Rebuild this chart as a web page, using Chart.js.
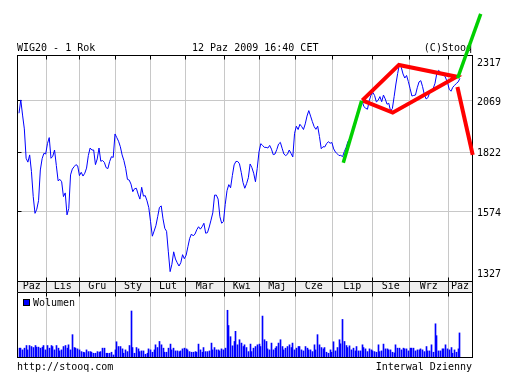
<!DOCTYPE html>
<html><head><meta charset="utf-8">
<script src="https://cdn.jsdelivr.net/npm/chart.js@4/dist/chart.umd.min.js"></script>
<style>
html,body{margin:0;padding:0;background:#fff;}
#wrap{position:relative;width:513px;height:381px;overflow:hidden;background:#fff;}
canvas{position:absolute;left:0;top:0;}
</style></head><body>
<div id="wrap">
<canvas id="vol" width="513" height="381"></canvas>
<canvas id="price" width="513" height="381"></canvas>
</div>
<script>
// ---------- texts ----------
const titleLeft = 'WIG20 - 1 Rok';
const titleCenter = '12 Paz 2009 16:40 CET';
const titleRight = '(C)Stooq';
const footerLeft = 'http://stooq.com';
const footerRight = 'Interwal Dzienny';
const volumeLabel = 'Wolumen';

// ---------- axes ----------
const monthLabels = ['Paz','Lis','Gru','Sty','Lut','Mar','Kwi','Maj','Cze','Lip','Sie','Wrz','Paz'];
// month boundaries in trading-day index units
const monthBounds = [15.4, 33.9, 54.2, 74.1, 93.5, 115.5, 135.2, 155.4, 176.2, 198.7, 219.5, 241.4];
const xRange = [-1.125, 254.8];
const priceTicks = [2317, 2069, 1822, 1574, 1327];
const volumeMax = 64;

// ---------- series (daily, trading-day index 0..248) ----------
const close = [
2007,2074,1998,1931,1796,1779,1811,1738,1634,1568,
1584,1618,1745,1794,1818,1815,1862,1890,1796,1805,
1833,1764,1699,1705,1695,1634,1649,1562,1587,1724,
1749,1759,1768,1763,1721,1735,1719,1731,1753,1808,
1842,1833,1833,1768,1793,1842,1783,1786,1778,1755,
1751,1782,1803,1800,1907,1890,1873,1848,1811,1786,
1752,1705,1702,1685,1654,1666,1668,1644,1624,1672,
1636,1638,1617,1590,1536,1482,1501,1521,1555,1591,
1597,1547,1511,1500,1426,1358,1383,1426,1401,1388,
1377,1388,1416,1402,1414,1444,1474,1490,1483,1490,
1506,1517,1508,1517,1530,1493,1495,1516,1542,1570,
1640,1640,1624,1555,1530,1537,1603,1658,1683,1670,
1721,1767,1782,1782,1772,1735,1692,1668,1687,1712,
1771,1755,1731,1695,1752,1825,1862,1854,1845,1845,
1842,1854,1837,1812,1815,1835,1860,1868,1841,1815,
1808,1814,1833,1818,1802,1910,1944,1928,1953,1942,
1928,1955,1993,2020,1993,1966,1942,1929,1944,1895,
1839,1848,1847,1862,1871,1864,1867,1838,1824,1816,
1808,1809,1803,1826,1845,1871,1884,1910,1942,1966,
1990,2023,2053,2067,2040,2032,2027,2070,2099,2113,
2097,2064,2072,2091,2065,2099,2079,2052,2057,2018,
2030,2091,2157,2214,2266,2248,2211,2189,2203,2170,
2132,2094,2097,2099,2137,2168,2175,2143,2101,2079,
2086,2112,2124,2134,2161,2214,2231,2222,2208,2210,
2189,2166,2129,2119,2140,2150,2160,2168,2187
];
const volume = [
8.7,8.7,7,8.7,11.3,7,11.3,10.3,9.3,11.3,
9.7,9.7,8.7,9.7,11.3,7,11.3,8.7,11.3,10.3,
7,11.3,8.7,6,7,10.3,11.3,8.7,12,7,
22,9.3,8.7,8,7,5.3,4.7,4.3,7,5.3,
5.3,4.7,3.7,3.7,5.3,4.7,5.3,8.7,8.7,3.7,
3.7,3.7,4.7,2,7,15,10.3,10.3,8,3.7,
7,5.3,11.3,45.3,9.3,3.7,9.3,8,5.3,6,
6,2.7,3.7,8,7,4.7,7,12,9.3,15.3,
12,8.7,4.7,4.7,8.7,12.7,7,8.7,6,6,
5.3,6,8,8.7,8,7,5.3,4.7,4.7,5.3,
4.7,12.7,7,4.7,9.3,5.3,5.3,6,13.7,7,
9.3,7,7,6,8,7,8.7,46,31,20,
11,15.3,25.3,12,17,13.7,10.3,12,9.3,5.3,
12.7,5.3,8.7,10.3,12,12.7,10.3,40.3,17,15.3,
8,7,13.7,7,8.7,10.3,13.7,17,10.3,7,
8.7,10.3,12,9.3,13.7,7,8.7,10.3,10.3,7,
6,10.3,8.7,7,7,5.3,12,7,22,12,
9.3,8,9.3,4.7,3.7,7,4.7,15,6,9.3,
17,13,37,15.3,11.3,9.3,11,7,8.7,6,
10.3,6,6,12,9.3,8,5.3,8,7,6,
5.3,4.7,12,5.3,6,12.7,8,8,7,7,
4.7,4,12,8.7,8.7,7,8.7,8,8,6,
8.7,8.7,8.7,6,7,7,8,7,5.3,10.3,
6,6,12,4.7,32.7,21,6,6,8,8,
12,8,7,9.3,3.7,7,4.7,8,23.7
];

// ---------- hand-drawn annotation lines (index, price) ----------
const greenLine1 = [{x:182.4,y:1776},{x:192.7,y:2070}];
const greenLine2 = [{x:246.7,y:2188},{x:259.7,y:2564}];
const redDiamond = [{x:193.1,y:2072},{x:213.7,y:2261},{x:246.2,y:2196},{x:210.2,y:2010},{x:193.1,y:2072}];
const redLine = [{x:246.6,y:2141},{x:255.2,y:1811}];

// ---------- styling ----------
const FAMILY = "'DejaVu Sans Mono', monospace";
const FONT = "10px " + FAMILY;
const GRID = '#c8c8c8';
const BLUE = '#0000ff';
const RED = '#ff0000';
const GREEN = '#00d000';

const monthMids = monthLabels.map((_, i) => {
  const a = i === 0 ? xRange[0] : monthBounds[i - 1];
  const b = i === monthBounds.length ? xRange[1] : monthBounds[i];
  return (a + b) / 2;
});
const al = p => Math.round(p - 0.5) + 0.5;

function line(ctx, x1, y1, x2, y2) { ctx.beginPath(); ctx.moveTo(x1, y1); ctx.lineTo(x2, y2); ctx.stroke(); }

const priceFrame = {
  id: 'priceFrame',
  beforeDraw(chart) {
    const ctx = chart.ctx, a = chart.chartArea;
    ctx.save();
    ctx.fillStyle = '#eeeeee';
    ctx.fillRect(a.left, a.bottom, a.right - a.left, 11);
    ctx.fillStyle = '#000';
    ctx.font = FONT;
    ctx.textBaseline = 'alphabetic';
    ctx.textAlign = 'left';
    ctx.fillText(titleLeft, 17, 51);
    ctx.fillText(titleCenter, 192, 51);
    ctx.fillText(footerLeft, 17, 369.5);
    ctx.textAlign = 'right';
    ctx.fillText(titleRight, 472, 51);
    ctx.fillText(footerRight, 472, 369.5);
    ctx.restore();
  },
  beforeDatasetsDraw(chart) {
    const ctx = chart.ctx, a = chart.chartArea, xs = chart.scales.x, ys = chart.scales.y;
    ctx.save();
    ctx.strokeStyle = '#000';
    ctx.lineWidth = 1;
    const L = al(a.left), R = al(a.right), T = al(a.top), B = al(a.bottom), BB = B + 11;
    ctx.strokeRect(L, T, R - L, B - T);
    line(ctx, L, B, L, BB); line(ctx, R, B, R, BB); line(ctx, L, BB, R, BB);
    monthBounds.forEach(v => {
      const p = al(xs.getPixelForValue(v));
      line(ctx, p, T, p, T + 4);
      line(ctx, p, B - 4, p, B);
    });
    ctx.strokeStyle = '#333';
    monthBounds.forEach(v => {
      const p = al(xs.getPixelForValue(v));
      line(ctx, p, B, p, BB);
    });
    ctx.strokeStyle = '#000';
    priceTicks.forEach(v => {
      const p = al(ys.getPixelForValue(v));
      line(ctx, L, p, L + 4, p);
    });
    ctx.restore();
  },
  afterDraw(chart) {
    const ctx = chart.ctx, a = chart.chartArea, ys = chart.scales.y;
    ctx.save();
    ctx.fillStyle = '#000';
    ctx.font = FONT;
    ctx.textAlign = 'left';
    ctx.textBaseline = 'alphabetic';
    priceTicks.forEach(v => {
      let p = ys.getPixelForValue(v);
      p = Math.min(Math.max(p, a.top + 7), a.bottom - 7.5);
      ctx.fillText(String(v), a.right + 5, p + 3.8);
    });
    ctx.restore();
  }
};

const annot = (data, color, w) => ({
  data, borderColor: color, borderWidth: w, pointRadius: 0, tension: 0,
  clip: false, fill: false, borderCapStyle: 'butt', borderJoinStyle: 'miter', order: 0
});

new Chart(document.getElementById('price'), {
  type: 'line',
  data: {
    datasets: [
      annot(greenLine1, GREEN, 3.5),
      annot(greenLine2, GREEN, 3.5),
      annot(redDiamond, RED, 4),
      annot(redLine, RED, 4),
      { data: close.map((v, i) => ({x: i, y: v})), borderColor: BLUE, borderWidth: 1,
        pointRadius: 0, tension: 0, fill: false, order: 10 }
    ]
  },
  options: {
    responsive: false, animation: false, devicePixelRatio: 1, events: [],
    layout: { padding: { left: 17, top: 55, right: 0, bottom: 89 } },
    plugins: { legend: { display: false }, tooltip: { enabled: false } },
    scales: {
      x: {
        type: 'linear', position: 'bottom', min: xRange[0], max: xRange[1],
        afterBuildTicks: s => { s.ticks = monthBounds.map(v => ({value: v})); },
        ticks: { display: false }, grid: { color: GRID, drawTicks: false }, border: { display: false },
        afterFit: s => { s.height = 0; }
      },
      xl: {
        type: 'linear', position: 'bottom', min: xRange[0], max: xRange[1],
        afterBuildTicks: s => { s.ticks = monthMids.map(v => ({value: v})); },
        ticks: { callback: (v, i) => monthLabels[i], color: '#000', padding: 0,
                 maxRotation: 0, minRotation: 0, autoSkip: false,
                 font: { family: FAMILY, size: 10, lineHeight: 1 } },
        grid: { display: false, drawTicks: false }, border: { display: false },
        afterFit: s => { s.height = 11; }
      },
      y: {
        type: 'logarithmic', position: 'right', min: priceTicks[priceTicks.length - 1], max: priceTicks[0],
        afterBuildTicks: s => { s.ticks = priceTicks.map(v => ({value: v})); },
        ticks: { display: false }, grid: { color: GRID, drawTicks: false }, border: { display: false },
        afterFit: s => { s.width = 41; }
      }
    }
  },
  plugins: [priceFrame]
});

const volFrame = {
  id: 'volFrame',
  afterDatasetsUpdate(chart) {
    // snap each 1px bar onto a whole pixel column so it stays crisp
    chart.getDatasetMeta(0).data.forEach(el => { el.x = Math.floor(el.x) + 0.5; });
  },
  afterDatasetsDraw(chart) {
    const ctx = chart.ctx, a = chart.chartArea, xs = chart.scales.x;
    ctx.save();
    ctx.strokeStyle = '#000';
    ctx.lineWidth = 1;
    const L = al(a.left), R = al(a.right), T = al(a.top), B = al(a.bottom);
    line(ctx, L, T, L, B); line(ctx, R, T, R, B); line(ctx, L - 0.5, B, R + 0.5, B);
    monthBounds.forEach(v => {
      const p = al(xs.getPixelForValue(v));
      line(ctx, p, T, p, T + 4);
    });
    // legend
    ctx.fillStyle = BLUE;
    ctx.fillRect(23, 299, 7, 7);
    ctx.strokeStyle = '#000';
    ctx.strokeRect(23.5, 299.5, 6, 6);
    ctx.fillStyle = '#000';
    ctx.font = FONT;
    ctx.textAlign = 'left';
    ctx.textBaseline = 'alphabetic';
    ctx.fillText(volumeLabel, 33, 306);
    ctx.restore();
  }
};

new Chart(document.getElementById('vol'), {
  type: 'bar',
  data: {
    datasets: [{ label: volumeLabel, data: volume.map((v, i) => ({x: i, y: v})),
                 backgroundColor: BLUE, borderWidth: 0, barThickness: 1 }]
  },
  options: {
    responsive: false, animation: false, devicePixelRatio: 1, events: [],
    layout: { padding: { left: 17, top: 292, right: 41, bottom: 24 } },
    plugins: { tooltip: { enabled: false }, legend: { display: false } },
    scales: {
      x: {
        type: 'linear', min: xRange[0], max: xRange[1], offset: false,
        afterBuildTicks: s => { s.ticks = monthBounds.map(v => ({value: v})); },
        ticks: { display: false }, grid: { color: GRID, drawTicks: false, offset: false },
        border: { display: false },
        afterFit: s => { s.height = 0; }
      },
      y: { min: 0, max: volumeMax, display: false }
    }
  },
  plugins: [volFrame]
});
</script>
</body></html>
